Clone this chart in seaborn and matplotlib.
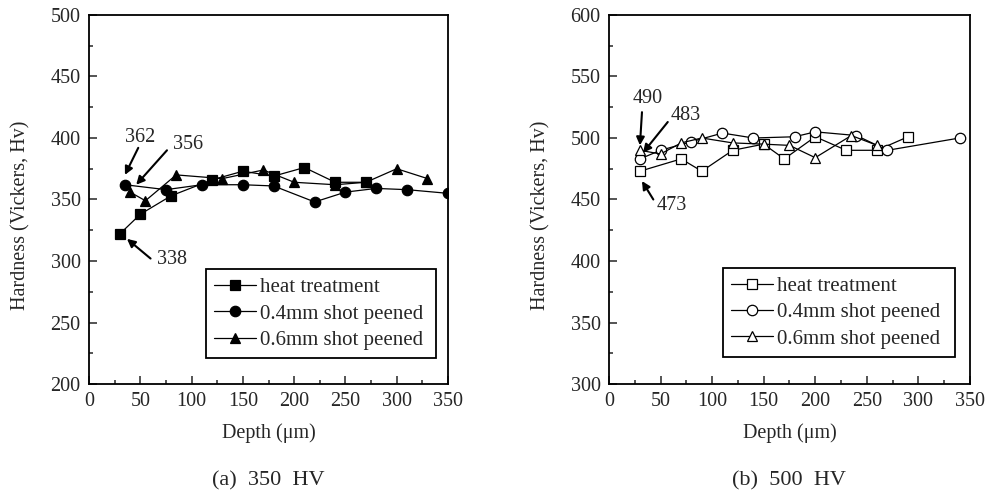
import pandas as pd
import seaborn as sns
import matplotlib
matplotlib.use("Agg")
import matplotlib.pyplot as plt
from matplotlib.ticker import MultipleLocator, AutoMinorLocator

# ============================
# Datos
# ============================
series_names = ["heat treatment", "0.4mm shot peened", "0.6mm shot peened"]

# (a) 350 HV
a_heat_depth = [30, 50, 80, 120, 150, 180, 210, 240, 270]
a_heat_hv = [322, 338, 353, 366, 373, 369, 376, 364, 364]
a_04_depth = [35, 75, 110, 150, 180, 220, 250, 280, 310, 350]
a_04_hv = [362, 358, 362, 362, 361, 348, 356, 359, 358, 355]
a_06_depth = [40, 55, 85, 130, 170, 200, 240, 270, 300, 330]
a_06_hv = [356, 349, 370, 367, 374, 364, 362, 364, 375, 367]

# (b) 500 HV
b_heat_depth = [30, 70, 90, 120, 150, 170, 200, 230, 260, 290]
b_heat_hv = [473, 483, 473, 490, 495, 483, 501, 490, 490, 501]
b_04_depth = [30, 50, 80, 110, 140, 180, 200, 240, 270, 340]
b_04_hv = [483, 490, 497, 504, 500, 501, 505, 502, 490, 500]
b_06_depth = [30, 50, 70, 90, 120, 150, 175, 200, 235, 260]
b_06_hv = [490, 487, 496, 500, 496, 495, 494, 484, 502, 494]

# anotaciones: texto, posición del texto, cola y punta de la flecha
a_notes = [("362", (50, 400), (48, 392), (35, 370)),
           ("356", (97, 395), (76, 390), (46, 362)),
           ("338", (81, 301), (60, 302), (37, 318))]
b_notes = [("490", (38, 532), (32, 521), (30, 494)),
           ("483", (74, 518), (57, 513), (33, 488)),
           ("473", (61, 445), (43, 450), (32, 465))]


def to_long(groups):
    frames = []
    for name, depth, hv in groups:
        frames.append(pd.DataFrame({"depth": depth, "hv": hv, "treatment": name}))
    return pd.concat(frames, ignore_index=True)


df_a = to_long(zip(series_names, [a_heat_depth, a_04_depth, a_06_depth],
                   [a_heat_hv, a_04_hv, a_06_hv]))
df_b = to_long(zip(series_names, [b_heat_depth, b_04_depth, b_06_depth],
                   [b_heat_hv, b_04_hv, b_06_hv]))

# ============================
# Estilo
# ============================
sns.set_style("ticks")
plt.rcParams["font.family"] = ["Liberation Serif", "DejaVu Serif"]

fig = plt.figure(figsize=(9.87, 4.98), dpi=100)
ax_a = fig.add_axes([0.0902, 0.2289, 0.3637, 0.741])
ax_b = fig.add_axes([0.6170, 0.2289, 0.3657, 0.741])

markers = ["s", "o", "^"]
palette = ["black"] * 3


def draw_panel(ax, df, face, ylim, notes, leg_box, caption):
    sns.lineplot(data=df, x="depth", y="hv", hue="treatment", style="treatment",
                 hue_order=series_names, style_order=series_names,
                 palette=palette, markers=markers, dashes=False,
                 markersize=7.5, markeredgecolor="black", markeredgewidth=0.9,
                 markerfacecolor=face, linewidth=0.9, legend=False, ax=ax)

    ax.set_xlim(0, 350)
    ax.set_ylim(*ylim)
    ax.xaxis.set_major_locator(MultipleLocator(50))
    ax.yaxis.set_major_locator(MultipleLocator(50))
    ax.xaxis.set_minor_locator(AutoMinorLocator(2))
    ax.yaxis.set_minor_locator(AutoMinorLocator(2))
    ax.tick_params(which="both", direction="in", top=False, right=False,
                   labelsize=14.5, width=1.1)
    ax.tick_params(which="major", length=6)
    ax.tick_params(which="minor", length=3)
    ax.tick_params(axis="x", pad=6)
    ax.tick_params(axis="y", pad=6)
    for sp in ax.spines.values():
        sp.set_visible(True)
        sp.set_linewidth(1.3)
        sp.set_color("black")

    ax.set_xlabel("Depth (μm)", fontsize=14.5)
    ax.set_ylabel("Hardness (Vickers, Hv)", fontsize=14.5)
    ax.xaxis.label.set_va("center")
    ax.yaxis.label.set_va("center")
    ax.xaxis.set_label_coords(0.5, -0.133)
    ax.yaxis.set_label_coords(-0.19, 0.458)

    for text, txt_pos, tail, head in notes:
        ax.text(*txt_pos, text, fontsize=14.5, ha="center", va="center")
        ax.annotate("", xy=head, xytext=tail,
                    arrowprops=dict(arrowstyle="-|>", color="black", lw=1.5,
                                    mutation_scale=12, shrinkA=0, shrinkB=0))

    leg = ax.legend(handles=ax.lines[:3], labels=series_names,
                    loc="lower left", bbox_to_anchor=leg_box, mode="expand",
                    borderaxespad=0, fontsize=15, handlelength=2.0,
                    handletextpad=0.2, borderpad=0.4, labelspacing=0.32,
                    frameon=True, fancybox=False, edgecolor="black")
    leg.get_frame().set_linewidth(1.3)
    leg.get_frame().set_alpha(1)

    ax.text(0.5, -0.262, caption, transform=ax.transAxes, fontsize=16,
            ha="center", va="center")


draw_panel(ax_a, df_a, "black", (200, 500), a_notes,
           (0.326, 0.070, 0.641, 0.239), "(a)  350  HV")
draw_panel(ax_b, df_b, "white", (300, 600), b_notes,
           (0.316, 0.073, 0.642, 0.241), "(b)  500  HV")

plt.savefig("out.png", dpi=100, facecolor="white")
